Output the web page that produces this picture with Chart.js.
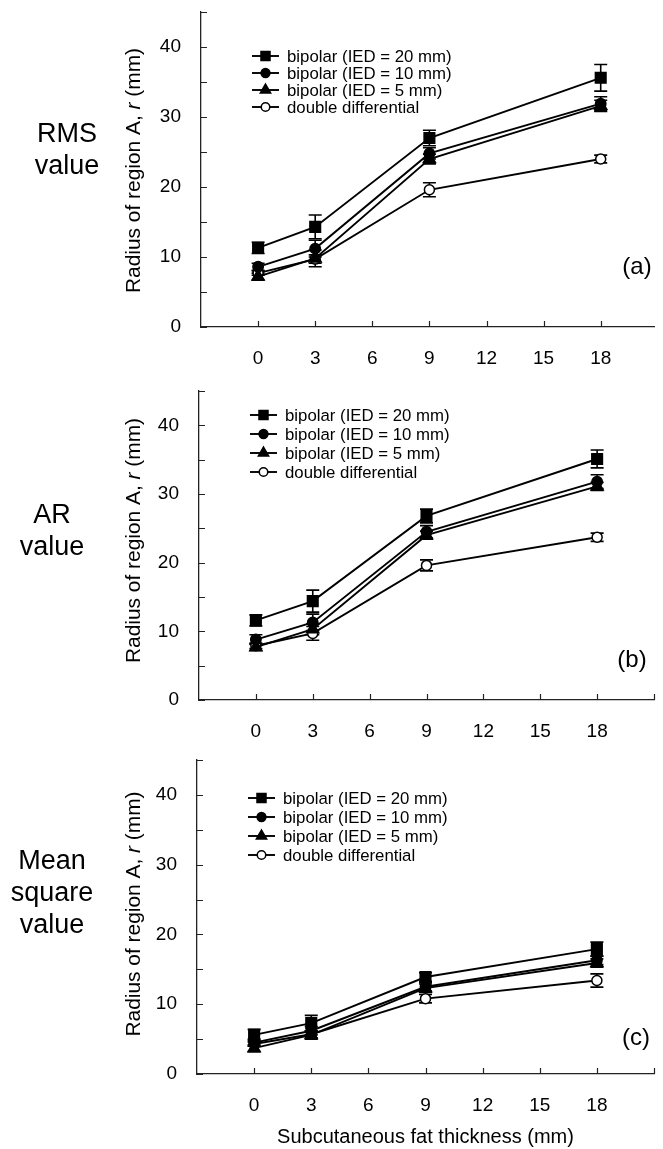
<!DOCTYPE html>
<html>
<head>
<meta charset="utf-8">
<script src="https://cdn.jsdelivr.net/npm/chart.js@4/dist/chart.umd.min.js"></script>
<style>
body{margin:0;background:#fff;width:663px;height:1149px;overflow:hidden;position:relative}
canvas{position:absolute;left:0}
</style>
</head>
<body>
<canvas id="chartA" width="663" height="375" style="top:0px"></canvas>
<canvas id="chartB" width="663" height="373" style="top:375px"></canvas>
<canvas id="chartC" width="663" height="401" style="top:748px"></canvas>
<script>
// x values (subcutaneous fat thickness, mm) and axis ticks
const thickness = [0, 3, 9, 18];
const xTickLabels = [0, 3, 6, 9, 12, 15, 18];
const yTickLabels = [0, 10, 20, 30, 40];
const seriesNames = ['bipolar (IED = 20 mm)', 'bipolar (IED = 10 mm)', 'bipolar (IED = 5 mm)', 'double differential'];

// (a) RMS value
const rmsIed20 = [11.3, 14.3, 27.0, 35.6];
const rmsIed20Err = [0.8, 1.7, 1.1, 1.9];
const rmsIed10 = [8.6, 11.2, 24.8, 31.9];
const rmsIed10Err = [0.5, 1.2, 0.8, 1.0];
const rmsIed5 = [7.2, 9.8, 24.0, 31.6];
const rmsIed5Err = [0.5, 1.2, 0.7, 0.8];
const rmsDD = [7.7, 9.7, 19.6, 24.0];
const rmsDDErr = [0.3, 0.6, 1.0, 0.55];

// (b) AR value
const arIed20 = [11.6, 14.4, 26.8, 35.1];
const arIed20Err = [0.8, 1.6, 1.0, 1.3];
const arIed10 = [8.8, 11.3, 24.5, 31.8];
const arIed10Err = [0.7, 1.2, 0.9, 1.0];
const arIed5 = [7.7, 10.3, 24.0, 31.1];
const arIed5Err = [0.5, 0.8, 0.6, 0.6];
const arDD = [7.9, 9.7, 19.6, 23.7];
const arDDErr = [0.4, 1.0, 0.8, 0.6];

// (c) Mean square value
const msIed20 = [5.6, 7.3, 13.9, 17.9];
const msIed20Err = [0.8, 1.1, 0.6, 1.0];
const msIed10 = [4.5, 6.2, 12.5, 16.3];
const msIed10Err = [0.5, 0.6, 0.6, 0.6];
const msIed5 = [3.7, 5.6, 12.3, 15.9];
const msIed5Err = [0.5, 0.6, 0.6, 0.6];
const msDD = [4.3, 5.7, 10.8, 13.4];
const msDDErr = [0.3, 0.5, 0.6, 0.95];

const FONT = "'Liberation Sans', Arial, Helvetica, sans-serif";
const markerStyles = [
  {pointStyle:'rect', radius:7.5, fill:'#000'},
  {pointStyle:'circle', radius:5.2, fill:'#000'},
  {pointStyle:'triangle', radius:7, fill:'#000'},
  {pointStyle:'circle', radius:5, fill:'#fff'}
];

function makeDatasets(values, errors){
  return values.map((vals, i) => ({
    label: seriesNames[i],
    data: vals.map((v, j) => ({x: thickness[j], y: v})),
    errors: errors[i],
    borderColor: '#000',
    borderWidth: 1.9,
    pointStyle: markerStyles[i].pointStyle,
    pointRadius: markerStyles[i].radius,
    pointBackgroundColor: markerStyles[i].fill,
    pointBorderColor: '#000',
    pointBorderWidth: 1.5,
    tension: 0,
    fill: false
  }));
}

// no extra room for end labels, keep chart area where we put it
function noPad(s){
  s.paddingTop = 0; s.paddingBottom = 0; s.paddingLeft = 0; s.paddingRight = 0;
}

// draws error bars, inward ticks, legend, panel labels and side titles
const panelDecor = {
  id: 'panelDecor',
  beforeDatasetsDraw(chart){
    const ctx = chart.ctx, xs = chart.scales.x, ys = chart.scales.y;
    ctx.save();
    ctx.strokeStyle = '#000';
    ctx.lineWidth = 1.6;
    chart.data.datasets.forEach(ds => {
      ds.data.forEach((p, i) => {
        const x = xs.getPixelForValue(p.x);
        const y1 = ys.getPixelForValue(p.y + ds.errors[i]);
        const y2 = ys.getPixelForValue(p.y - ds.errors[i]);
        ctx.beginPath();
        ctx.moveTo(x, y1); ctx.lineTo(x, y2);
        ctx.moveTo(x - 6.5, y1); ctx.lineTo(x + 6.5, y1);
        ctx.moveTo(x - 6.5, y2); ctx.lineTo(x + 6.5, y2);
        ctx.stroke();
      });
    });
    ctx.restore();
  },
  afterDraw(chart, args, opts){
    const ctx = chart.ctx, xs = chart.scales.x, ys = chart.scales.y, area = chart.chartArea;
    ctx.save();
    // inward ticks
    ctx.strokeStyle = '#222';
    ctx.lineWidth = 1.2;
    ctx.beginPath();
    ys.ticks.forEach(t => {
      const y = Math.round(ys.getPixelForValue(t.value)) + 0.5;
      ctx.moveTo(area.left, y); ctx.lineTo(area.left + 6, y);
    });
    xs.ticks.forEach(t => {
      if (t.value <= xs.min) return;
      const x = Math.round(xs.getPixelForValue(t.value)) + 0.5;
      ctx.moveTo(x, area.bottom); ctx.lineTo(x, area.bottom - 6);
    });
    ctx.stroke();

    // legend
    const lx = area.left + 51, lw = 27;
    ctx.font = '16.8px ' + FONT;
    ctx.textBaseline = 'middle';
    ctx.textAlign = 'left';
    chart.data.datasets.forEach((ds, i) => {
      const y = area.top + opts.legendTop + i * opts.legendGap;
      ctx.strokeStyle = '#000';
      ctx.lineWidth = 1.9;
      ctx.beginPath(); ctx.moveTo(lx, y); ctx.lineTo(lx + lw, y); ctx.stroke();
      ctx.fillStyle = ds.pointBackgroundColor;
      ctx.lineWidth = 1.5;
      Chart.helpers.drawPoint(ctx, {pointStyle: ds.pointStyle, radius: ds.pointRadius * 0.85, rotation: 0, borderWidth: 1.5}, lx + lw / 2, y);
      ctx.fillStyle = '#000';
      ctx.fillText(ds.label, lx + lw + 8, y + 1);
    });

    // panel letter
    ctx.font = '24px ' + FONT;
    ctx.textAlign = 'center';
    ctx.fillText(opts.letter, opts.letterX, opts.letterY);

    // y axis title with italic r, fitted to the measured length
    const parts = [['Radius of region A, ', ''], ['r', 'italic '], [' (mm)', '']];
    let total = 0;
    const widths = parts.map(p => { ctx.font = p[1] + '21px ' + FONT; const w = ctx.measureText(p[0]).width; total += w; return w; });
    const sx = 245 / total;
    ctx.translate(140, (area.top + area.bottom) / 2 + opts.titleShift);
    ctx.rotate(-Math.PI / 2);
    ctx.scale(sx, 1);
    ctx.textAlign = 'left';
    ctx.textBaseline = 'alphabetic';
    let cx = -total / 2;
    parts.forEach((p, i) => { ctx.font = p[1] + '21px ' + FONT; ctx.fillText(p[0], cx, 0); cx += widths[i]; });
    ctx.setTransform(1, 0, 0, 1, 0, 0);

    // side title
    ctx.font = '27px ' + FONT;
    ctx.textAlign = 'center';
    ctx.textBaseline = 'alphabetic';
    opts.side.forEach((s, i) => ctx.fillText(s, opts.sideX, opts.sideY + i * 32));
    ctx.restore();
  }
};

function makeChart(id, datasets, cfg){
  return new Chart(document.getElementById(id), {
    type: 'line',
    data: {datasets: datasets},
    options: {
      responsive: false,
      animation: false,
      events: [],
      layout: {padding: {top: cfg.padTop, right: cfg.padRight, left: 0, bottom: 0}},
      plugins: {
        legend: {display: false},
        tooltip: {enabled: false},
        panelDecor: cfg.decor
      },
      scales: {
        x: {
          type: 'linear', min: -3, max: cfg.xMax,
          grid: {display: false, drawTicks: false},
          border: {display: true, color: '#222', width: 1.3},
          ticks: {padding: 20, color: '#000', font: {family: FONT, size: 19},
            callback: v => xTickLabels.includes(v) ? v : ''},
          afterBuildTicks: s => {
            const vals = [-3].concat(xTickLabels);
            if (cfg.xMax >= 21) vals.push(21);
            s.ticks = vals.map(v => ({value: v}));
          },
          title: {display: !!cfg.xTitle, text: cfg.xTitle || '', color: '#000', font: {family: FONT, size: 20}, padding: {top: 4, bottom: 0}},
          afterFit: s => { s.height = cfg.xHeight; noPad(s); }
        },
        y: {
          type: 'linear', min: 0, max: 45,
          grid: {display: false, drawTicks: false},
          border: {display: true, color: '#222', width: 1.3},
          ticks: {stepSize: 5, padding: 20, color: '#000', font: {family: FONT, size: 19},
            callback: v => yTickLabels.includes(v) ? v : ''},
          afterFit: s => { s.width = cfg.yWidth; noPad(s); }
        }
      }
    },
    plugins: [panelDecor]
  });
}

makeChart('chartA',
  makeDatasets([rmsIed20, rmsIed10, rmsIed5, rmsDD], [rmsIed20Err, rmsIed10Err, rmsIed5Err, rmsDDErr]),
  {padTop: 12, padRight: 0, xMax: 20.8, xHeight: 48, yWidth: 201,
   decor: {legendTop: 44, legendGap: 17, letter: '(a)', letterX: 637, letterY: 267, titleShift: 1,
     side: ['RMS', 'value'], sideX: 67, sideY: 142}});

makeChart('chartB',
  makeDatasets([arIed20, arIed10, arIed5, arDD], [arIed20Err, arIed10Err, arIed5Err, arDDErr]),
  {padTop: 16, padRight: 0, xMax: 21, xHeight: 48, yWidth: 199,
   decor: {legendTop: 24, legendGap: 19, letter: '(b)', letterX: 632, letterY: 285, titleShift: -5,
     side: ['AR', 'value'], sideX: 52, sideY: 148}});

makeChart('chartC',
  makeDatasets([msIed20, msIed10, msIed5, msDD], [msIed20Err, msIed10Err, msIed5Err, msDDErr]),
  {padTop: 12, padRight: 9, xMax: 21, xHeight: 75, yWidth: 197, xTitle: 'Subcutaneous fat thickness (mm)',
   decor: {legendTop: 38, legendGap: 19, letter: '(c)', letterX: 636, letterY: 290, titleShift: -3,
     side: ['Mean', 'square', 'value'], sideX: 52, sideY: 121}});
</script>
</body>
</html>
